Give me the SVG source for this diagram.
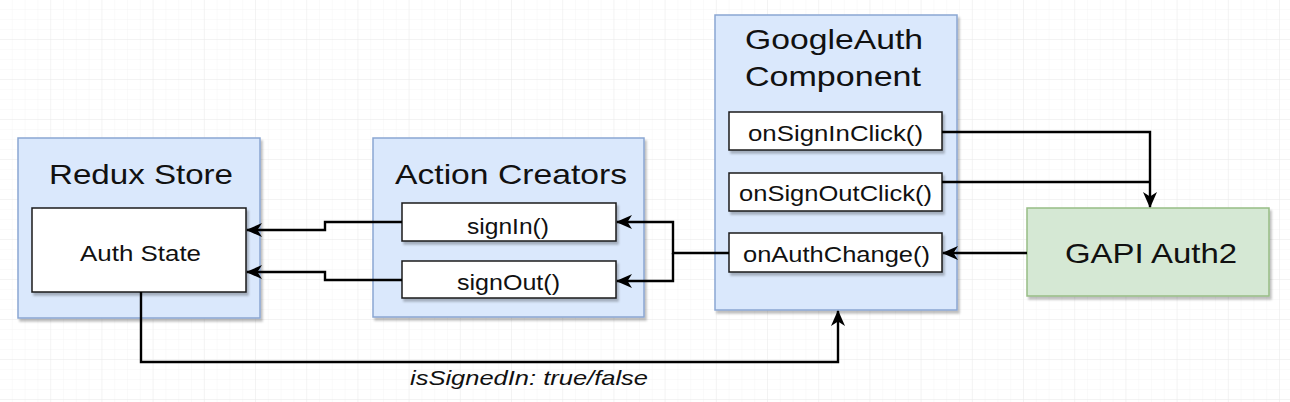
<svg xmlns="http://www.w3.org/2000/svg" width="1290" height="402" viewBox="0 0 1290 402">
<style>
  .container { fill: #dae8fc; stroke: #8aa6d2; stroke-width: 1.5; filter: url(#shadow); }
  .item { fill: #ffffff; stroke: #1a1a1a; stroke-width: 1.5; filter: url(#shadow); }
  .gapi { fill: #d5e8d4; stroke: #97bd85; stroke-width: 1.5; filter: url(#shadow); }
  .title { font-family: "Liberation Sans", Arial, sans-serif; font-size: 28px; fill: #111; text-anchor: middle; }
  .label { font-family: "Liberation Sans", Arial, sans-serif; font-size: 22.5px; fill: #111; text-anchor: middle; }
  .edge { fill: none; stroke: #000; stroke-width: 2.4; }
  .elabel { font-family: "Liberation Sans", Arial, sans-serif; font-size: 21px; font-style: italic; fill: #111; text-anchor: middle; }
</style>
<defs>
  <pattern id="minor" width="12.8" height="10" patternUnits="userSpaceOnUse">
    <path d="M12.8 0 V10 M0 10 H12.8" fill="none" stroke="#f5f5f5" stroke-width="1"/>
  </pattern>
  <pattern id="major" width="51.2" height="40" patternUnits="userSpaceOnUse">
    <rect width="51.2" height="40" fill="url(#minor)"/>
    <path d="M51.2 0 V40 M0 40 H51.2" fill="none" stroke="#ebebeb" stroke-width="1"/>
  </pattern>
  <filter id="shadow" x="-10%" y="-10%" width="130%" height="130%">
    <feDropShadow dx="2" dy="3" stdDeviation="1.2" flood-color="#000" flood-opacity="0.25"/>
  </filter>
  <marker id="arrow" markerUnits="userSpaceOnUse" markerWidth="16" markerHeight="14" refX="15" refY="7" orient="auto">
    <path d="M0,0 L16,7 L0,14 L4.5,7 Z" fill="#000"/>
  </marker>
</defs>
<rect width="1290" height="402" fill="#ffffff"/>
<rect width="1290" height="402" fill="url(#major)"/>

<g id="redux-store">
  <rect class="container" x="18" y="138" width="242" height="180"/>
  <text class="title" x="141" y="184" textLength="184" lengthAdjust="spacingAndGlyphs">Redux Store</text>
</g>
<g id="auth-state">
  <rect class="item" x="32" y="208" width="214" height="84"/>
  <text class="label" x="140.5" y="261" textLength="121" lengthAdjust="spacingAndGlyphs">Auth State</text>
</g>

<g id="action-creators">
  <rect class="container" x="373" y="138" width="271" height="179"/>
  <text class="title" x="511" y="184" textLength="232" lengthAdjust="spacingAndGlyphs">Action Creators</text>
</g>
<g id="sign-in">
  <rect class="item" x="402" y="203" width="214" height="38"/>
  <text class="label" x="508" y="234" textLength="82" lengthAdjust="spacingAndGlyphs">signIn()</text>
</g>
<g id="sign-out">
  <rect class="item" x="402" y="261" width="214" height="37"/>
  <text class="label" x="508.5" y="290" textLength="103" lengthAdjust="spacingAndGlyphs">signOut()</text>
</g>

<g id="googleauth-component">
  <rect class="container" x="715" y="15" width="242" height="295"/>
  <text class="title" x="834" y="49" textLength="178" lengthAdjust="spacingAndGlyphs">GoogleAuth</text>
  <text class="title" x="833" y="86" textLength="176" lengthAdjust="spacingAndGlyphs">Component</text>
</g>
<g id="on-sign-in-click">
  <rect class="item" x="729" y="112" width="213" height="38"/>
  <text class="label" x="835.5" y="141" textLength="175" lengthAdjust="spacingAndGlyphs">onSignInClick()</text>
</g>
<g id="on-sign-out-click">
  <rect class="item" x="729" y="173" width="213" height="38"/>
  <text class="label" x="835.5" y="201" textLength="193" lengthAdjust="spacingAndGlyphs">onSignOutClick()</text>
</g>
<g id="on-auth-change">
  <rect class="item" x="729" y="233" width="213" height="39"/>
  <text class="label" x="836.5" y="262" textLength="187" lengthAdjust="spacingAndGlyphs">onAuthChange()</text>
</g>

<g id="gapi-auth2">
  <rect class="gapi" x="1027" y="208" width="242" height="88"/>
  <text class="title" x="1151" y="263" textLength="172" lengthAdjust="spacingAndGlyphs">GAPI Auth2</text>
</g>

<g id="connectors">
  <path class="edge" d="M402,222 H325 V230 H247" marker-end="url(#arrow)"/>
  <path class="edge" d="M402,280 H325 V272 H247" marker-end="url(#arrow)"/>
  <path class="edge" d="M729,253 H673 V222 H617" marker-end="url(#arrow)"/>
  <path class="edge" d="M673,253 V281 H617" marker-end="url(#arrow)"/>
  <path class="edge" d="M942,132 H1150 V207" marker-end="url(#arrow)"/>
  <path class="edge" d="M942,182 H1150"/>
  <path class="edge" d="M1027,253 H943" marker-end="url(#arrow)"/>
  <path class="edge" d="M141,292 V362 H838 V311" marker-end="url(#arrow)"/>
  <text class="elabel" x="529" y="385" textLength="238" lengthAdjust="spacingAndGlyphs">isSignedIn: true/false</text>
</g>
</svg>
